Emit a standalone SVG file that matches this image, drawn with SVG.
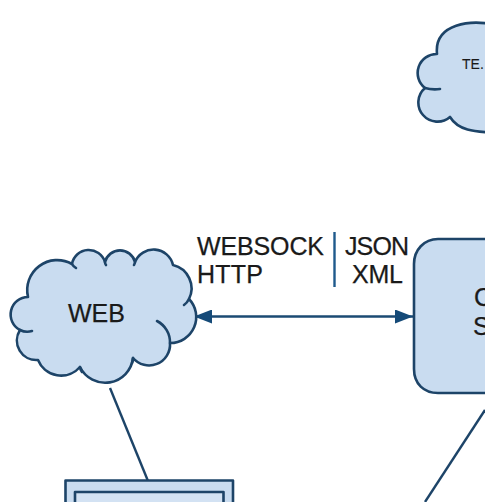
<svg xmlns="http://www.w3.org/2000/svg" width="485" height="502" viewBox="0 0 485 502">
<style>
.s{fill:#c9dcf0;stroke:#1d4468;stroke-width:2.6;stroke-linejoin:round;stroke-linecap:round}
.c{fill:none;stroke:#1d4468;stroke-width:2.6;stroke-linecap:round}
text{font-family:"Liberation Sans",Arial,sans-serif;fill:#1a1a1a;font-size:25px;stroke:#1a1a1a;stroke-width:.25}
</style>
<defs>
<marker id="b" viewBox="0 0 18 14" refX="18" refY="7" markerWidth="18" markerHeight="14" orient="auto-start-reverse" markerUnits="userSpaceOnUse"><path d="M0 0L18 7L0 14Z" fill="#154a78"/></marker>
</defs>
<rect width="485" height="502" fill="#fff"/>
<g id="connectors" fill="none">
<path d="M194 316.500H413" stroke="#1b4a73" stroke-width="2.400" marker-start="url(#b)" marker-end="url(#b)"/>
<path d="M334.500 232V287" stroke="#1f5a8c" stroke-width="2.400"/>
<path d="M110 388L148 481" stroke="#1d4468" stroke-width="2.400"/>
<path d="M485 410L425 502" stroke="#1d4468" stroke-width="2.400"/>
</g>
<g id="cloud-web">
<path class="s" d="M28 297A30 30 0 0 1 72 264A17 17 0 0 1 105 262A15.500 15.500 0 0 1 135 262A20 20 0 0 1 173 265A24 24 0 0 1 189 299A26 26 0 0 1 170 343A21 21 0 0 1 133 358A28 28 0 0 1 80 367A25 25 0 0 1 38 360A19.500 19.500 0 0 1 20 330A17.500 17.500 0 0 1 28 297Z"/>
<path class="c" d="M157 321A24 24 0 0 1 170 343"/>
<path class="c" d="M20 330A16 16 0 0 0 32 331"/>
<path class="c" d="M72 264Q73 266 76 268"/>
<path class="c" d="M105 262Q105 264 106 265"/>
<path class="c" d="M135 262Q135 263 134 265"/>
<path class="c" d="M189 299Q187 303 184 305"/>
<path class="c" d="M133 358Q133 361 132 363"/>
<path class="c" d="M80 367Q80 369 82 372"/>
<text x="68" y="322" textLength="57" lengthAdjust="spacing">WEB</text>
</g>
<g id="cloud-te">
<path class="s" d="M500 26C470 18 434 24 437 54A19 19 0 0 0 425 88A17 17 0 0 0 450 117C458 130 472 132 500 133Z"/>
<path class="c" d="M425 88Q432 90 440 89"/>
<text x="462" y="69" style="font-size:14px;stroke-width:.1">TE.</text>
</g>
<g id="node-server">
<path class="s" d="M490 239H438C424 239 414 250 414 264V369C414 384 424 393 438 393H490Z"/>
<text x="474" y="306">C</text>
<text x="473" y="335">S</text>
</g>
<g id="node-client">
<rect class="s" x="65.500" y="480.500" width="167.500" height="40" stroke-linejoin="miter"/>
<rect class="s" x="75" y="492" width="148.500" height="30" style="fill:#d3e2f3"/>
</g>
<g id="labels">
<text x="197" y="255" textLength="127" lengthAdjust="spacing">WEBSOCK</text>
<text x="197" y="283" textLength="66" lengthAdjust="spacing">HTTP</text>
<text x="345" y="255" textLength="64" lengthAdjust="spacing">JSON</text>
<text x="352" y="283" textLength="51" lengthAdjust="spacing">XML</text>
</g>
</svg>
